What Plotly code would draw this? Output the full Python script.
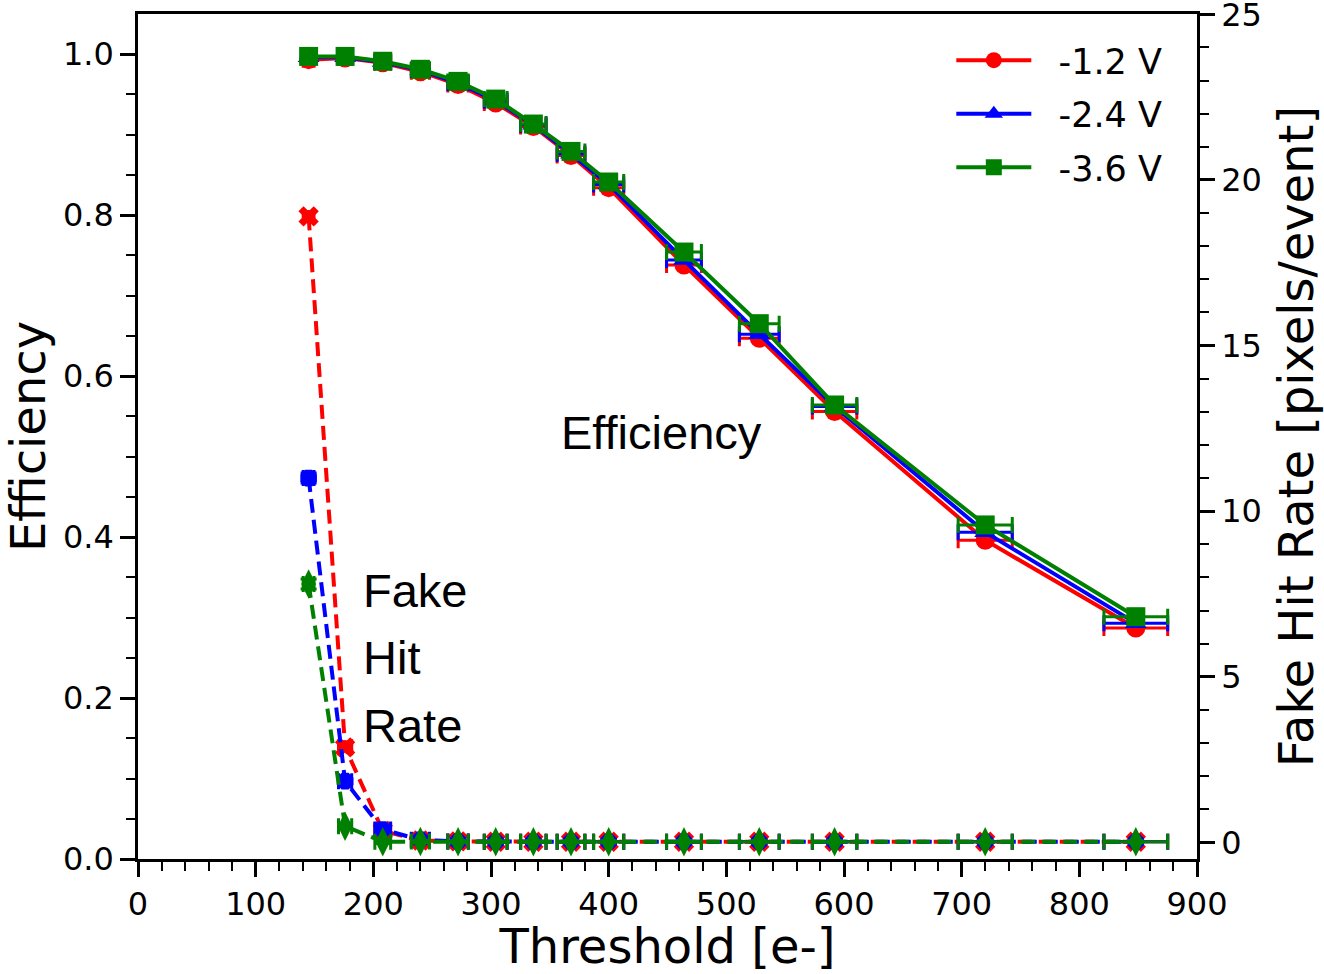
import plotly.graph_objects as go

# ---------------- data ----------------
threshold = [145, 176, 208, 240, 272, 304, 336, 368, 400, 464, 528, 592, 720, 848]
threshold_err = [4.6, 5.6, 6.7, 7.7, 8.7, 9.7, 10.8, 11.8, 12.8, 14.8, 16.9, 18.9, 23.0, 27.1]

eff_12 = [0.993, 0.995, 0.989, 0.978, 0.962, 0.939, 0.910, 0.874, 0.834, 0.738, 0.647, 0.556, 0.396, 0.287]
eff_24 = [0.996, 0.996, 0.990, 0.980, 0.964, 0.942, 0.912, 0.876, 0.838, 0.744, 0.652, 0.562, 0.406, 0.293]
eff_36 = [0.997, 0.997, 0.991, 0.981, 0.966, 0.944, 0.913, 0.879, 0.841, 0.754, 0.665, 0.564, 0.415, 0.301]
eff_err = [0.003, 0.003, 0.003, 0.003, 0.003, 0.003, 0.003, 0.003, 0.003, 0.003, 0.003, 0.003, 0.003, 0.003]

fhr_12 = [18.9, 2.87, 0.35, 0.06, 0.03, 0.02, 0.02, 0.02, 0.02, 0.02, 0.02, 0.02, 0.02, 0.02]
fhr_24 = [11.0, 1.85, 0.39, 0.08, 0.03, 0.02, 0.02, 0.02, 0.02, 0.02, 0.02, 0.02, 0.02, 0.02]
fhr_36 = [7.8, 0.49, 0.02, 0.03, 0.02, 0.02, 0.02, 0.02, 0.02, 0.02, 0.02, 0.02, 0.02, 0.02]
fhr_err = [0.15, 0.08, 0.05, 0.03, 0.03, 0.03, 0.03, 0.03, 0.03, 0.03, 0.03, 0.03, 0.03, 0.03]

labels = ["-1.2 V", "-2.4 V", "-3.6 V"]
colors = ["#ff0000", "#0000ff", "#008000"]
eff_symbols = ["circle", "triangle-up", "square"]
fhr_symbols = ["x", "octagon", "diamond-tall"]
fhr_sizes = [18, 18, 21]

TICK_FONT = dict(family="DejaVu Sans", size=32, color="black")
TITLE_FONT = dict(family="DejaVu Sans", size=48, color="black")
ANN_FONT = dict(family="Liberation Sans, Arial", size=47, color="black")

fig = go.Figure()

for eff, lab, col, sym in zip([eff_12, eff_24, eff_36], labels, colors, eff_symbols):
    fig.add_trace(go.Scatter(
        x=threshold, y=eff, name="\u00a0\u00a0" + lab, mode="lines+markers",
        line=dict(color=col, width=4),
        marker=dict(symbol=sym, size=19, color=col),
        error_x=dict(type="data", array=threshold_err, color=col, thickness=3, width=8),
        error_y=dict(type="data", array=eff_err, color=col, thickness=3, width=8),
        legendgroup=lab, yaxis="y", cliponaxis=False,
    ))

for fhr, lab, col, sym, sz in zip([fhr_12, fhr_24, fhr_36], labels, colors, fhr_symbols, fhr_sizes):
    fig.add_trace(go.Scatter(
        x=threshold, y=fhr, name=lab, mode="lines+markers", showlegend=False,
        line=dict(color=col, width=4, dash="14px,7px"),
        marker=dict(symbol=sym, size=sz, color=col, line=dict(width=0, color=col)),
        error_x=dict(type="data", array=threshold_err, color=col, thickness=3, width=8),
        error_y=dict(type="data", array=fhr_err, color=col, thickness=3, width=8),
        legendgroup=lab, yaxis="y2", cliponaxis=False,
    ))

axis_common = dict(
    showline=True, linecolor="black", linewidth=2.5,
    ticks="outside", ticklen=15, tickwidth=3, tickcolor="black",
    tickfont=TICK_FONT, showgrid=False, zeroline=False,
    ticklabeloverflow="allow", automargin=False,
)

fig.update_layout(
    width=1324, height=974,
    margin=dict(l=138, r=127, t=14, b=115, autoexpand=False),
    paper_bgcolor="white", plot_bgcolor="white",
    showlegend=True,
    legend=dict(x=0.768, y=0.98, xanchor="left", yanchor="top",
                font=dict(family="DejaVu Sans", size=35, color="black"),
                bgcolor="rgba(0,0,0,0)", tracegroupgap=5, itemwidth=75),
    xaxis=dict(range=[0, 900], dtick=100, tick0=0, mirror=True,
               title=dict(text="Threshold [e-]", font=TITLE_FONT, standoff=10),
               minor=dict(dtick=20, ticks="outside", ticklen=9, tickwidth=2, tickcolor="black"),
               **axis_common),
    yaxis=dict(range=[0, 1.0497], dtick=0.2, tick0=0, tickformat=".1f",
               title=dict(text="Efficiency", font=TITLE_FONT, standoff=12),
               minor=dict(dtick=0.05, ticks="outside", ticklen=9, tickwidth=2, tickcolor="black"),
               **axis_common),
    yaxis2=dict(range=[-0.5, 25.01], dtick=5, tick0=0, overlaying="y", side="right",
                title=dict(text="Fake Hit Rate [pixels/event]", font=TITLE_FONT, standoff=20),
                minor=dict(dtick=1, ticks="outside", ticklen=9, tickwidth=2, tickcolor="black"),
                **axis_common),
)

fig.add_annotation(x=445, y=0.530, xref="x", yref="y", text="Efficiency",
                   showarrow=False, font=ANN_FONT, xanchor="center", yanchor="middle")
for txt, yy in zip(["Fake", "Hit", "Rate"], [0.333, 0.250, 0.166]):
    fig.add_annotation(x=189.5, y=yy, xref="x", yref="y", text=txt,
                       showarrow=False, font=ANN_FONT, xanchor="left", yanchor="middle")

fig.write_html("out.html")
